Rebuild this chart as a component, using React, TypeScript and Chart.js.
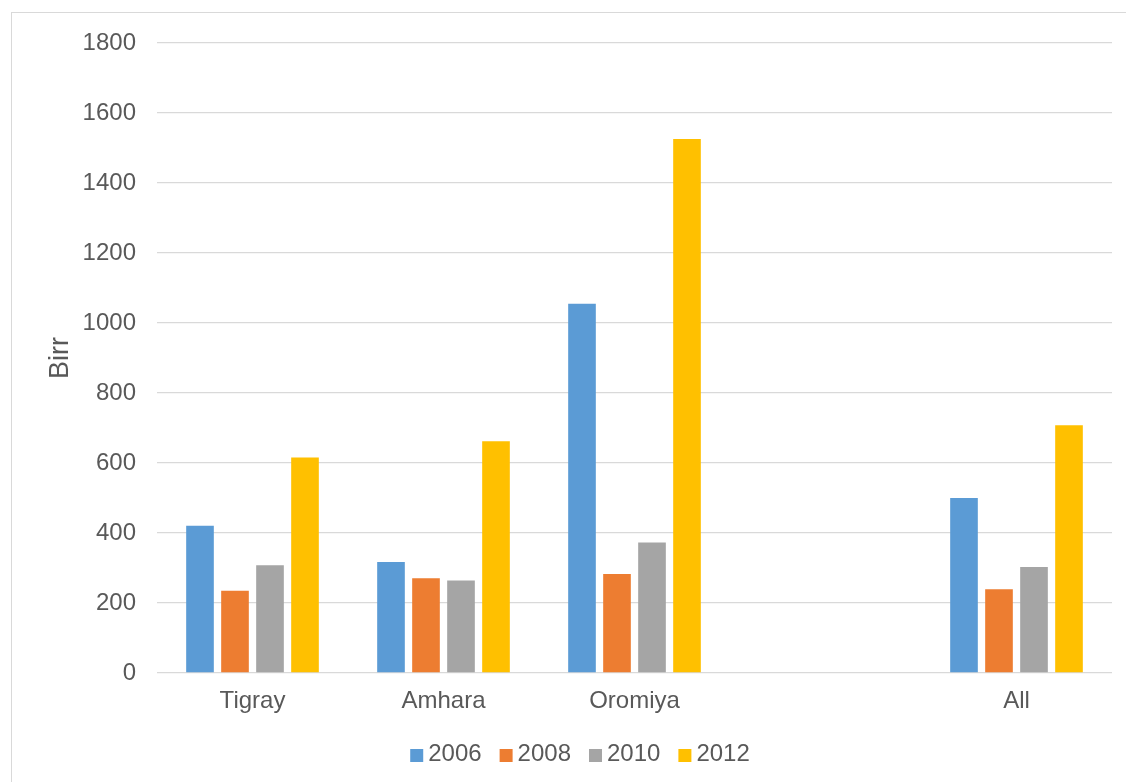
import React, { useEffect, useRef } from "react";
import { Chart, registerables } from "chart.js";

Chart.register(...registerables);

// Regions (the blank slot keeps the gap before the national total)
const regions = ["Tigray", "Amhara", "Oromiya", "", "All"];

// Values in Birr per survey year
const years = ["2006", "2008", "2010", "2012"];
const values2006 = [421, 317, 1055, null, 500];
const values2008 = [235, 271, 283, null, 239];
const values2010 = [308, 264, 373, null, 303];
const values2012 = [616, 662, 1526, null, 708];

// Axis ticks
const yMin = 0;
const yMax = 1800;
const yStep = 200;

const seriesColors = ["#5B9BD5", "#ED7D31", "#A5A5A5", "#FFC000"];
const FONT = "'Liberation Sans', Arial, sans-serif";
const TEXT = "#595959";
const GRID = "#D9D9D9";

// Legend row under the x axis: square marker, small gap, label
const legendPlugin = {
  id: "rowLegend",
  afterDraw(chart: any, _args: any, opts: any) {
    const ctx = chart.ctx;
    const size = opts.fontSize;
    ctx.save();
    ctx.font = `${size}px ${FONT}`;
    ctx.textBaseline = "middle";
    ctx.textAlign = "left";
    const items = chart.data.datasets.map((ds: any) => ({
      label: ds.label,
      color: ds.backgroundColor,
      w: ctx.measureText(ds.label).width,
    }));
    const total =
      items.reduce((s: number, it: any) => s + opts.box + opts.gap + it.w, 0) +
      opts.spacing * (items.length - 1);
    let x = opts.centerX - total / 2;
    for (const it of items) {
      ctx.fillStyle = it.color;
      ctx.fillRect(x, opts.y - opts.box / 2 + 1.5, opts.box, opts.box);
      ctx.fillStyle = TEXT;
      ctx.fillText(it.label, x + opts.box + opts.gap, opts.y);
      x += opts.box + opts.gap + it.w + opts.spacing;
    }
    ctx.restore();
  },
};

function BirrChart() {
  const ref = useRef<HTMLCanvasElement | null>(null);

  useEffect(() => {
    if (!ref.current) return;
    const series = [values2006, values2008, values2010, values2012];
    const chart = new Chart(ref.current, {
      type: "bar",
      data: {
        labels: regions,
        datasets: years.map((y, i) => ({
          label: y,
          data: series[i],
          backgroundColor: seriesColors[i],
          borderWidth: 0,
          categoryPercentage: 0.733,
          barPercentage: 0.79,
        })),
      },
      options: {
        animation: false,
        responsive: true,
        maintainAspectRatio: false,
        layout: { padding: { top: 43, right: 14, bottom: 0, left: 0 } },
        plugins: {
          legend: { display: false },
          tooltip: { enabled: false },
          rowLegend: { centerX: 580, y: 754, box: 13, gap: 5, spacing: 18, fontSize: 24 },
        } as any,
        scales: {
          x: {
            grid: { display: false },
            border: { display: false },
            ticks: {
              color: TEXT,
              font: { family: FONT, size: 24 },
              padding: 6,
              maxRotation: 0,
            },
            afterFit(scale: any) {
              scale.height = 109;
            },
          },
          y: {
            min: yMin,
            max: yMax,
            border: { display: false },
            grid: { color: GRID, lineWidth: 1.3, drawTicks: false },
            ticks: {
              stepSize: yStep,
              color: TEXT,
              font: { family: FONT, size: 24 },
              padding: 21,
              callback: (v: any) => String(v),
            },
            title: {
              display: true,
              text: "Birr",
              color: TEXT,
              font: { family: FONT, size: 27 },
              padding: { top: 44, bottom: 0 },
            },
            afterFit(scale: any) {
              scale.width = 157;
            },
          },
        },
      },
      plugins: [legendPlugin],
    });
    return () => chart.destroy();
  }, []);

  return <canvas ref={ref} />;
}

export default function App() {
  return (
    <div
      style={{
        position: "absolute",
        left: 0,
        top: 0,
        width: 1126,
        height: 782,
        overflow: "hidden",
        background: "#fff",
      }}
    >
      <div
        style={{
          position: "absolute",
          left: 11,
          top: 12,
          width: 1300,
          height: 900,
          border: `1px solid ${GRID}`,
        }}
      />
      <div style={{ position: "absolute", left: 0, top: 0, width: 1126, height: 782 }}>
        <BirrChart />
      </div>
    </div>
  );
}
